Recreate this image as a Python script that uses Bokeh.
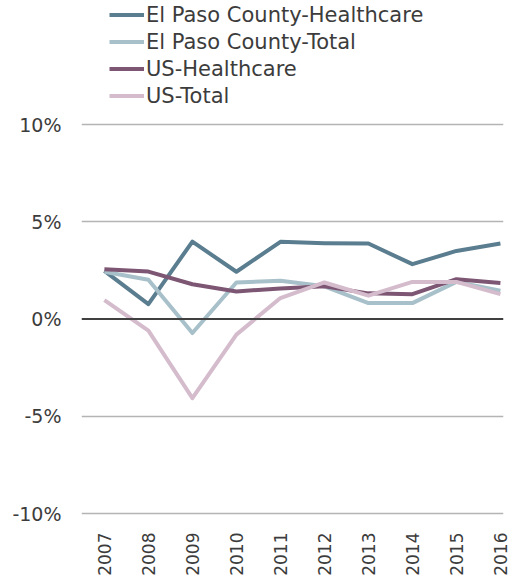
import numpy as np
from bokeh.plotting import figure
from bokeh.models import (ColumnDataSource, Legend, LegendItem, FixedTicker,
                          Span, Range1d, CustomJSTickFormatter)
from bokeh.embed import file_html
from bokeh.resources import INLINE

years = [2007, 2008, 2009, 2010, 2011, 2012, 2013, 2014, 2015, 2016]
ep_health = [2.48, 0.77, 3.98, 2.43, 3.97, 3.90, 3.88, 2.82, 3.50, 3.88]
ep_total = [2.43, 2.02, -0.72, 1.88, 1.97, 1.68, 0.82, 0.82, 1.91, 1.45]
us_health = [2.56, 2.44, 1.79, 1.42, 1.57, 1.68, 1.32, 1.28, 2.05, 1.85]
us_total = [0.97, -0.60, -4.07, -0.80, 1.08, 1.88, 1.20, 1.91, 1.91, 1.28]
y_ticks = [-10, -5, 0, 5, 10]

names = ["El Paso County-Healthcare", "El Paso County-Total", "US-Healthcare", "US-Total"]
series = [ep_health, ep_total, us_health, us_total]
colors = ["#5a7d8f", "#a8c0c9", "#7d5674", "#d4bccc"]

FONT = "DejaVu Sans"
TXT = "#3c3c3c"

PPU = 19.45          # pixels per percentage point
Y_BOT = -10.1
Y_TOP = 10 + 124 / PPU   # room above the 10% line for the legend
FRAME_H = int(round((Y_TOP - Y_BOT) * PPU))

p = figure(frame_width=422, frame_height=FRAME_H, output_backend="svg",
           toolbar_location=None,
           x_range=Range1d(2006.48, 2016.07), y_range=Range1d(Y_BOT, Y_TOP),
           min_border_left=81, min_border_right=8, min_border_top=0,
           min_border_bottom=0)
p.outline_line_color = None
p.background_fill_color = None
p.border_fill_color = None

# axes
p.xaxis.ticker = FixedTicker(ticks=years)
p.xaxis.major_label_orientation = np.pi / 2
p.xaxis.axis_line_color = None
p.xaxis.major_tick_line_color = None
p.xaxis.minor_tick_line_color = None
p.xaxis.major_tick_out = 0
p.xaxis.major_tick_in = 0
p.xaxis.minor_tick_out = 0
p.xaxis.major_label_standoff = 17
p.xaxis.major_label_text_font = FONT
p.xaxis.major_label_text_font_size = "17px"
p.xaxis.major_label_text_color = TXT

p.yaxis.ticker = FixedTicker(ticks=y_ticks)
p.yaxis.formatter = CustomJSTickFormatter(code="return tick + '%';")
p.yaxis.axis_line_color = None
p.yaxis.major_tick_line_color = None
p.yaxis.minor_tick_line_color = None
p.yaxis.major_tick_out = 0
p.yaxis.major_tick_in = 0
p.yaxis.minor_tick_out = 0
p.yaxis.major_label_standoff = 20
p.yaxis.major_label_text_font = FONT
p.yaxis.major_label_text_font_size = "19px"
p.yaxis.major_label_text_color = TXT

p.xgrid.grid_line_color = None
p.ygrid.ticker = FixedTicker(ticks=[-10, -5, 5, 10])
p.ygrid.grid_line_color = "#b4b4b4"
p.ygrid.grid_line_width = 1.5

zero = Span(location=0, dimension="width", line_color="#404040", line_width=2)
p.add_layout(zero)

items = []
for name, vals, col in zip(names, series, colors):
    src = ColumnDataSource(dict(x=years, y=vals))
    r = p.line("x", "y", source=src, line_color=col, line_width=4, line_join="round")
    items.append(LegendItem(label=name, renderers=[r]))

legend = Legend(items=items, location=(28, FRAME_H - 108 - 1), orientation="vertical",
                padding=0, margin=0, spacing=0, glyph_width=35, glyph_height=27,
                label_height=27, label_standoff=2, background_fill_alpha=0,
                border_line_color=None, label_text_font=FONT,
                label_text_font_size="21px", label_text_color=TXT)
p.add_layout(legend, "center")

open("out.html", "w").write(file_html(p, INLINE))
